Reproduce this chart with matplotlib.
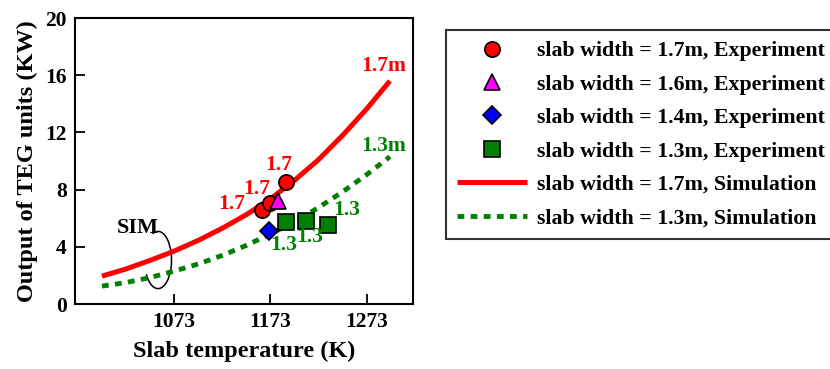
import matplotlib
matplotlib.use('Agg')
import matplotlib.pyplot as plt
from matplotlib.patches import Arc

plt.rcParams['font.family'] = ['Liberation Serif', 'DejaVu Serif']
plt.rcParams['font.weight'] = 'bold'
plt.rcParams['axes.labelweight'] = 'bold'

# simulation curves
sim_temp = [998, 1023, 1048, 1073, 1098, 1123, 1148, 1173, 1198, 1223, 1248, 1273, 1297]
sim_17 = [1.95, 2.45, 3.05, 3.7, 4.45, 5.3, 6.25, 7.35, 8.65, 10.1, 11.8, 13.65, 15.6]
sim_13 = [1.25, 1.5, 1.85, 2.3, 2.8, 3.4, 4.1, 4.9, 5.75, 6.75, 7.85, 9.05, 10.3]

# experiments
exp17_t = [1164, 1172, 1189]
exp17_p = [6.6, 7.05, 8.5]
exp16_t = [1181]
exp16_p = [7.2]
exp14_t = [1171]
exp14_p = [5.1]
exp13_t = [1189, 1210, 1233]
exp13_p = [5.7, 5.8, 5.5]

red = '#ff0000'
green = '#008000'

fig = plt.figure(figsize=(8.3, 3.69), dpi=100)
ax = fig.add_axes([75/830, 1-304/369, 338/830, 286/369])

l1, = ax.plot(sim_temp, sim_17, color=red, lw=3.6, solid_capstyle='butt',
              label='slab width = 1.7m, Simulation')
l2, = ax.plot(sim_temp, sim_13, color=green, lw=3.5, linestyle=(0, (1.4, 1.3)),
              dash_capstyle='butt', label='slab width = 1.3m, Simulation')

m1, = ax.plot(exp17_t, exp17_p, 'o', ms=11, mfc=red, mec='black', mew=1.2,
              label='slab width = 1.7m, Experiment')
m2, = ax.plot(exp16_t, exp16_p, '^', ms=11, mfc='#ff00ff', mec='black', mew=1.2,
              label='slab width = 1.6m, Experiment')
m3, = ax.plot(exp14_t, exp14_p, 'D', ms=9, mfc='#0000ff', mec='black', mew=1.2,
              label='slab width = 1.4m, Experiment')
m4, = ax.plot(exp13_t, exp13_p, 's', ms=11, mfc='#007f00', mec='black', mew=1.2,
              label='slab width = 1.3m, Experiment')

fs = 15.5
for x, y in [(1133, 7.0), (1159, 8.06), (1182, 9.69)]:
    ax.text(x, y, '1.7', color=red, fontsize=fs, ha='center', va='center')
for x, y in [(1186.5, 4.11), (1214, 4.69), (1252, 6.55)]:
    ax.text(x, y, '1.3', color=green, fontsize=fs, ha='center', va='center')
ax.text(1290.5, 16.65, '1.7m', color=red, fontsize=fs, ha='center', va='center')
ax.text(1290.5, 11.08, '1.3m', color=green, fontsize=fs, ha='center', va='center')
ax.text(1035, 5.3, 'SIM', color='black', fontsize=16, ha='center', va='center')

ax.add_patch(Arc((0.2456, 0.1538), 0.08, 0.2, theta1=-125, theta2=100,
                 transform=ax.transAxes, color='black', lw=1.1))

ax.set_xlim(970, 1321)
ax.set_ylim(0, 20)
ax.set_xticks([1073, 1173, 1273])
ax.set_yticks([0, 4, 8, 12, 16, 20])
ax.tick_params(direction='in', length=7, width=1.3, labelsize=fs, pad=6)
for s in ax.spines.values():
    s.set_linewidth(1.5)
ax.set_xlabel('Slab temperature (K)', fontsize=17.5, labelpad=6)
ax.set_ylabel('Output of TEG units (KW)', fontsize=17.5, labelpad=5)

leg = fig.legend(handles=[m1, m2, m3, m4, l1, l2],
                 loc='upper left', bbox_to_anchor=(446/830, 1-30/369),
                 fontsize=15.75, frameon=True, fancybox=False, edgecolor='black',
                 handlelength=3.2, handletextpad=0.45, labelspacing=0.6,
                 borderpad=0.5, borderaxespad=0)
leg.get_frame().set_linewidth(1.5)

plt.savefig('out.png', dpi=100)
